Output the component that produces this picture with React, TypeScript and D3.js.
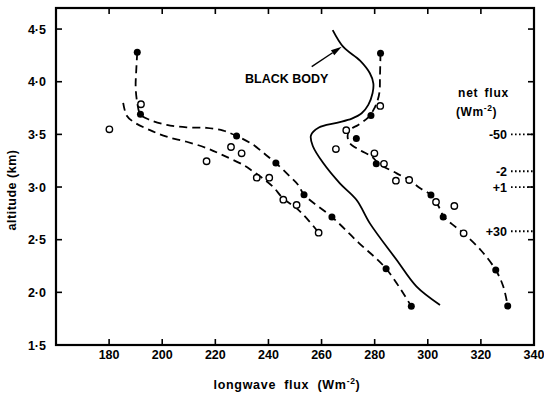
import React from "react";
import * as d3 from "d3";

// ---- Data ----
const xTickValues = [160, 180, 200, 220, 240, 260, 280, 300, 320, 340];
const xTickLabels = ["", "180", "200", "220", "240", "260", "280", "300", "320", "340"];
const yTickValues = [1.5, 2.0, 2.5, 3.0, 3.5, 4.0, 4.5];
const yTickLabels = ["1·5", "2·0", "2·5", "3·0", "3·5", "4·0", "4·5"];

// left profile, filled points
const leftFilledFlux = [190.6, 191.8, 228.0, 242.8, 253.4, 263.9, 284.3, 293.8];
const leftFilledAlt = [4.28, 3.69, 3.485, 3.228, 2.927, 2.716, 2.225, 1.867];
// left profile, open points
const leftOpenFlux = [192.0, 180.1, 225.9, 229.9, 216.7, 235.6, 240.3, 245.6, 250.6, 258.9];
const leftOpenAlt = [3.786, 3.548, 3.38, 3.32, 3.245, 3.089, 3.089, 2.88, 2.83, 2.567];
// right profile, filled points
const rightFilledFlux = [282.2, 278.6, 273.1, 280.6, 301.2, 305.8, 325.6, 330.1];
const rightFilledAlt = [4.27, 3.68, 3.46, 3.22, 2.925, 2.716, 2.212, 1.87];
// right profile, open points
const rightOpenFlux = [282.1, 269.3, 265.4, 279.9, 283.5, 288.0, 293.0, 303.1, 310.0, 313.5];
const rightOpenAlt = [3.77, 3.54, 3.36, 3.32, 3.22, 3.06, 3.067, 2.858, 2.82, 2.56];

// dashed fitted curves
const fitAFlux = [190.6, 190.2, 190.0, 190.6, 191.8, 195.4, 201.7, 209.2, 216.7, 223, 228, 234.3, 239.3, 242.8, 248.1, 251.2, 253.4, 263.9, 274, 284.3, 293.8];
const fitAAlt = [4.28, 4.1, 3.95, 3.8, 3.69, 3.637, 3.59, 3.567, 3.562, 3.535, 3.485, 3.4, 3.3, 3.228, 3.1, 3.02, 2.927, 2.716, 2.47, 2.225, 1.867];
const fitBFlux = [185.3, 186.6, 189.1, 195.4, 201.7, 209.2, 216.7, 223, 230.5, 234.3, 238, 241.8, 245.6, 250.5, 254.5, 258.9];
const fitBAlt = [3.8, 3.68, 3.62, 3.54, 3.478, 3.43, 3.37, 3.3, 3.21, 3.146, 3.08, 3.0, 2.89, 2.8, 2.7, 2.567];
const fitCFlux = [282.2, 282.0, 281.8, 280.8, 279.5, 277.5, 273.8, 270.5, 269.8, 270.7, 274.5, 278.8, 282, 288.3, 293, 297, 301.2, 304, 306, 309, 313.5, 320, 325.6, 328.5, 330.1];
const fitCAlt = [4.27, 4.05, 3.9, 3.8, 3.73, 3.66, 3.59, 3.54, 3.48, 3.415, 3.35, 3.29, 3.215, 3.13, 3.067, 2.99, 2.925, 2.82, 2.72, 2.65, 2.56, 2.4, 2.212, 2.05, 1.87];

// black body curve
const blackBodyFlux = [264.2, 268.2, 274.5, 278.2, 279.5, 279.2, 277.6, 275.1, 271.4, 265.7, 259, 256, 256.7, 260.7, 266.9, 273.2, 278.2, 288.3, 295.8, 304.6];
const blackBodyAlt = [4.49, 4.33, 4.2, 4.08, 3.985, 3.89, 3.78, 3.7, 3.65, 3.61, 3.565, 3.49, 3.39, 3.225, 3.035, 2.877, 2.655, 2.307, 2.054, 1.88];

// net flux annotations
const netFluxLabels = ["-50", "-2", "+1", "+30"];
const netFluxAlt = [3.5, 3.15, 3.0, 2.58];

// black body label arrow (flux, alt)
const arrowFrom = [256.3, 4.143];
const arrowTo = [267.6, 4.333];

const W = 544;
const H = 395;
const FONT = "'Liberation Sans', Arial, sans-serif";

export default function App() {
  const x = d3.scaleLinear().domain([160, 340]).range([56, 534]);
  const y = d3.scaleLinear().domain([1.5, 4.7]).range([345, 8]);
  const [x0, x1] = x.range();
  const [y0, y1] = y.range();

  const curve = (fx: number[], fy: number[]) =>
    d3
      .line<number>()
      .x((_, i) => x(fx[i]))
      .y((_, i) => y(fy[i]))
      .curve(d3.curveCatmullRom.alpha(0.5))(fx) || "";

  const tickLen = 6;

  const ax = x(arrowFrom[0]);
  const ay = y(arrowFrom[1]);
  const bx = x(arrowTo[0]);
  const by = y(arrowTo[1]);
  const ang = Math.atan2(by - ay, bx - ax);
  const hl = 11;
  const hw = 3;
  const baseX = bx - hl * Math.cos(ang);
  const baseY = by - hl * Math.sin(ang);
  const arrowHead = `M${bx},${by} L${baseX + hw * Math.sin(ang)},${baseY - hw * Math.cos(ang)} L${baseX - hw * Math.sin(ang)},${baseY + hw * Math.cos(ang)} Z`;

  return (
    <svg
      width={W}
      height={H}
      style={{ position: "absolute", left: 0, top: 0, background: "#fff" }}
      fontFamily={FONT}
      fontWeight="bold"
    >
      <rect x={0} y={0} width={W} height={H} fill="#fff" />
      {/* frame */}
      <rect x={x0} y={y1} width={x1 - x0} height={y0 - y1} fill="none" stroke="#000" strokeWidth={2.2} />

      {/* x ticks */}
      {xTickValues.map((v, i) => (
        <g key={"xt" + i}>
          <line x1={x(v)} x2={x(v)} y1={y0} y2={y0 - tickLen} stroke="#000" strokeWidth={1.6} />
          <line x1={x(v)} x2={x(v)} y1={y1} y2={y1 + tickLen} stroke="#000" strokeWidth={1.6} />
          {xTickLabels[i] && (
            <text x={x(v)} y={359} textAnchor="middle" fontSize={12.5} fill="#000">
              {xTickLabels[i]}
            </text>
          )}
        </g>
      ))}

      {/* y ticks */}
      {yTickValues.map((v, i) => (
        <g key={"yt" + i}>
          <line x1={x0} x2={x0 + tickLen} y1={y(v)} y2={y(v)} stroke="#000" strokeWidth={1.6} />
          <line x1={x1} x2={x1 - tickLen} y1={y(v)} y2={y(v)} stroke="#000" strokeWidth={1.6} />
          <text x={46} y={y(v)} dy="0.36em" textAnchor="end" fontSize={12.5} fill="#000">
            {yTickLabels[i]}
          </text>
        </g>
      ))}

      {/* axis titles */}
      <text x={287} y={389} textAnchor="middle" fontSize={12.5} letterSpacing={0.7} wordSpacing={4} fill="#000">
        longwave flux (Wm
        <tspan fontSize={8.5} dy={-5}>
          -2
        </tspan>
        <tspan dy={5}>)</tspan>
      </text>
      <text
        transform={`translate(16,${190}) rotate(-90)`}
        textAnchor="middle"
        fontSize={12.5}
        letterSpacing={0.5}
        fill="#000"
      >
        altitude (km)
      </text>

      {/* black body curve */}
      <path d={curve(blackBodyFlux, blackBodyAlt)} fill="none" stroke="#000" strokeWidth={1.8} />

      {/* dashed fits */}
      {[
        [fitAFlux, fitAAlt],
        [fitBFlux, fitBAlt],
        [fitCFlux, fitCAlt],
      ].map(([fx, fy], i) => (
        <path
          key={"fit" + i}
          d={curve(fx, fy)}
          fill="none"
          stroke="#000"
          strokeWidth={1.8}
          strokeDasharray="8 5"
        />
      ))}

      {/* open points */}
      {leftOpenFlux.map((v, i) => (
        <circle key={"lo" + i} cx={x(v)} cy={y(leftOpenAlt[i])} r={3.2} fill="#fff" stroke="#000" strokeWidth={1.4} />
      ))}
      {rightOpenFlux.map((v, i) => (
        <circle key={"ro" + i} cx={x(v)} cy={y(rightOpenAlt[i])} r={3.2} fill="#fff" stroke="#000" strokeWidth={1.4} />
      ))}
      {/* filled points */}
      {leftFilledFlux.map((v, i) => (
        <circle key={"lf" + i} cx={x(v)} cy={y(leftFilledAlt[i])} r={3.5} fill="#000" />
      ))}
      {rightFilledFlux.map((v, i) => (
        <circle key={"rf" + i} cx={x(v)} cy={y(rightFilledAlt[i])} r={3.5} fill="#000" />
      ))}

      {/* black body label and arrow */}
      <text x={245} y={83} fontSize={12.5} fill="#000" letterSpacing={0}>
        BLACK BODY
      </text>
      <line x1={ax} y1={ay} x2={baseX} y2={baseY} stroke="#000" strokeWidth={1.4} />
      <path d={arrowHead} fill="#000" />

      {/* net flux annotation */}
      <text x={458} y={97} fontSize={12} letterSpacing={0.8} wordSpacing={2} fill="#000">
        net flux
      </text>
      <text x={456} y={116} fontSize={12} letterSpacing={0.6} fill="#000">
        (Wm
        <tspan fontSize={8.5} dy={-5}>
          -2
        </tspan>
        <tspan dy={5}>)</tspan>
      </text>
      {netFluxLabels.map((lab, i) => (
        <g key={"nf" + i}>
          <text x={507} y={y(netFluxAlt[i])} dy="0.36em" textAnchor="end" fontSize={12.5} fill="#000">
            {lab}
          </text>
          <line
            x1={511}
            x2={x1}
            y1={y(netFluxAlt[i])}
            y2={y(netFluxAlt[i])}
            stroke="#000"
            strokeWidth={1.8}
            strokeDasharray="1.6 2.4"
          />
        </g>
      ))}
    </svg>
  );
}
